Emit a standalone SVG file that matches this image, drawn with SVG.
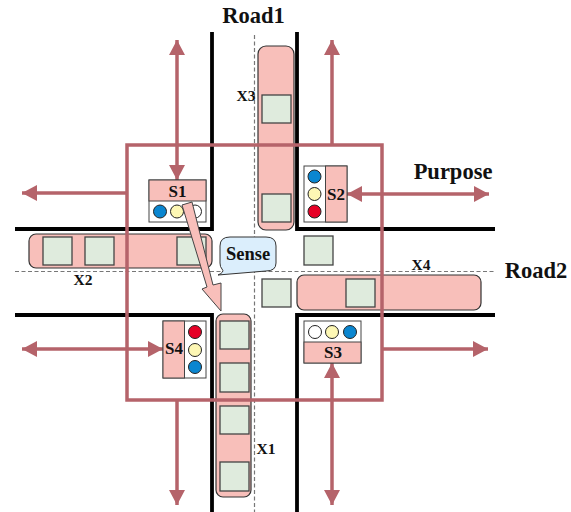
<svg xmlns="http://www.w3.org/2000/svg" width="571" height="512" viewBox="0 0 571 512">
<style>
text{font-family:"Liberation Serif",serif;font-weight:bold;fill:#111}
.road{stroke:#000;stroke-width:3.8;fill:none}
.dash{stroke:#777;stroke-width:1.2;stroke-dasharray:4 2.5;fill:none}
.bar{fill:#f8bfba;stroke:#333;stroke-width:1.2}
.car{fill:#dfebdd;stroke:#444;stroke-width:1.3}
.panel{fill:#fff;stroke:#444;stroke-width:1}
.head{fill:#f8bfba;stroke:#444;stroke-width:1}
.b{fill:#0a86d0;stroke:#222;stroke-width:1}
.y{fill:#fdf7b4;stroke:#222;stroke-width:1}
.r{fill:#e60026;stroke:#222;stroke-width:1}
.w{fill:#fff;stroke:#222;stroke-width:1}
.lnk{stroke:#b5636a;stroke-width:3.5;fill:none}
.s{font-size:17px;text-anchor:middle}
.x{font-size:15.500px;text-anchor:middle}
.t{font-size:22.500px;text-anchor:middle}
</style>
<defs>
<marker id="ah" markerUnits="userSpaceOnUse" markerWidth="16" markerHeight="16" refX="15" refY="8" orient="auto-start-reverse"><path d="M0 0L15 8L0 16Z" fill="#b5636a"/></marker>
</defs>
<g id="roads">
<path class="road" d="M212 32V229H15M297 32V229H495M15 315H212V512M495 315H297V512"/>
<path class="dash" d="M254.500 35V512M15 271.500H495"/>
</g>
<g id="X3"><rect class="bar" x="258" y="46" width="36" height="184" rx="8"/><rect class="car" x="262" y="95" width="29" height="28"/><rect class="car" x="262" y="194" width="29" height="28"/><text class="x" x="246" y="101">X3</text></g>
<g id="X2"><rect class="bar" x="29" y="234" width="183" height="34" rx="7"/><rect class="car" x="43" y="237" width="29" height="28"/><rect class="car" x="85" y="237" width="29" height="28"/><rect class="car" x="177" y="237" width="29" height="28"/><text class="x" x="83" y="285">X2</text></g>
<g id="X4"><rect class="bar" x="297" y="275" width="184" height="35" rx="7"/><rect class="car" x="346" y="279" width="29" height="28"/><text class="x" x="421" y="270">X4</text></g>
<g id="X1"><rect class="bar" x="216" y="314" width="35" height="183" rx="7"/><rect class="car" x="220" y="321" width="29" height="28"/><rect class="car" x="220" y="363" width="29" height="29"/><rect class="car" x="220" y="406" width="29" height="28"/><rect class="car" x="220" y="462" width="29" height="29"/><text class="x" x="266" y="454">X1</text></g>
<g id="car-a"><rect class="car" x="304" y="236" width="29" height="29"/></g>
<g id="car-b"><rect class="car" x="262" y="279" width="29" height="28"/></g>
<g id="connectors">
<rect class="lnk" x="127" y="145" width="255" height="255"/>
<path class="lnk" marker-start="url(#ah)" marker-end="url(#ah)" d="M177 40V180"/>
<path class="lnk" marker-end="url(#ah)" d="M127 193H22"/>
<path class="lnk" marker-end="url(#ah)" d="M332 145V40"/>
<path class="lnk" marker-start="url(#ah)" marker-end="url(#ah)" d="M347 194H489"/>
<path class="lnk" marker-end="url(#ah)" d="M382 349H488"/>
<path class="lnk" marker-start="url(#ah)" marker-end="url(#ah)" d="M22 349H163"/>
<path class="lnk" marker-end="url(#ah)" d="M177 400V505"/>
<path class="lnk" marker-start="url(#ah)" marker-end="url(#ah)" d="M332 363V505"/>
</g>
<g id="S1"><rect class="panel" x="149" y="180" width="57" height="42"/><rect class="head" x="149" y="180" width="57" height="21"/><circle class="b" cx="160" cy="211.500" r="6.500"/><circle class="y" cx="177" cy="211.500" r="6.500"/><circle class="w" cx="195" cy="211.500" r="6.500"/><text class="s" x="177.500" y="197">S1</text></g>
<g id="S2"><rect class="panel" x="304" y="166" width="43" height="56"/><rect class="head" x="325.500" y="166" width="21.500" height="56"/><circle class="b" cx="314.500" cy="176.500" r="6.500"/><circle class="y" cx="314.500" cy="194" r="6.500"/><circle class="r" cx="314.500" cy="211.500" r="6.500"/><text class="s" x="336" y="200">S2</text></g>
<g id="S3"><rect class="panel" x="304" y="321" width="57" height="42"/><rect class="head" x="304" y="342" width="57" height="21"/><circle class="w" cx="315" cy="332" r="6.500"/><circle class="y" cx="332" cy="332" r="6.500"/><circle class="b" cx="350" cy="332" r="6.500"/><text class="s" x="333" y="358">S3</text></g>
<g id="S4"><rect class="panel" x="163" y="321" width="43" height="57"/><rect class="head" x="163" y="321" width="21.500" height="57"/><circle class="r" cx="195" cy="332" r="6.500"/><circle class="y" cx="195" cy="350" r="6.500"/><circle class="b" cx="195" cy="367" r="6.500"/><text class="s" x="174" y="354">S4</text></g>
<g id="sense-arrow"><path fill="#f8bfba" stroke="#444" stroke-width="1" d="M182 205L192 202L213 285L221 283L221 311L202 289L207 287Z"/></g>
<g id="sense"><path fill="#dbeefc" stroke="#333" stroke-width="1" d="M230 237H266Q276 237 276 246V263Q276 271 266 271L242 273L218 275Q225 272 222 269Q220 267 220 263V246Q220 237 230 237Z"/><text x="248" y="260" font-size="18.500" text-anchor="middle">Sense</text></g>
<g id="labels"><text class="t" x="253.500" y="23">Road1</text><text class="t" x="453" y="179">Purpose</text><text class="t" x="536" y="278">Road2</text></g>
</svg>
